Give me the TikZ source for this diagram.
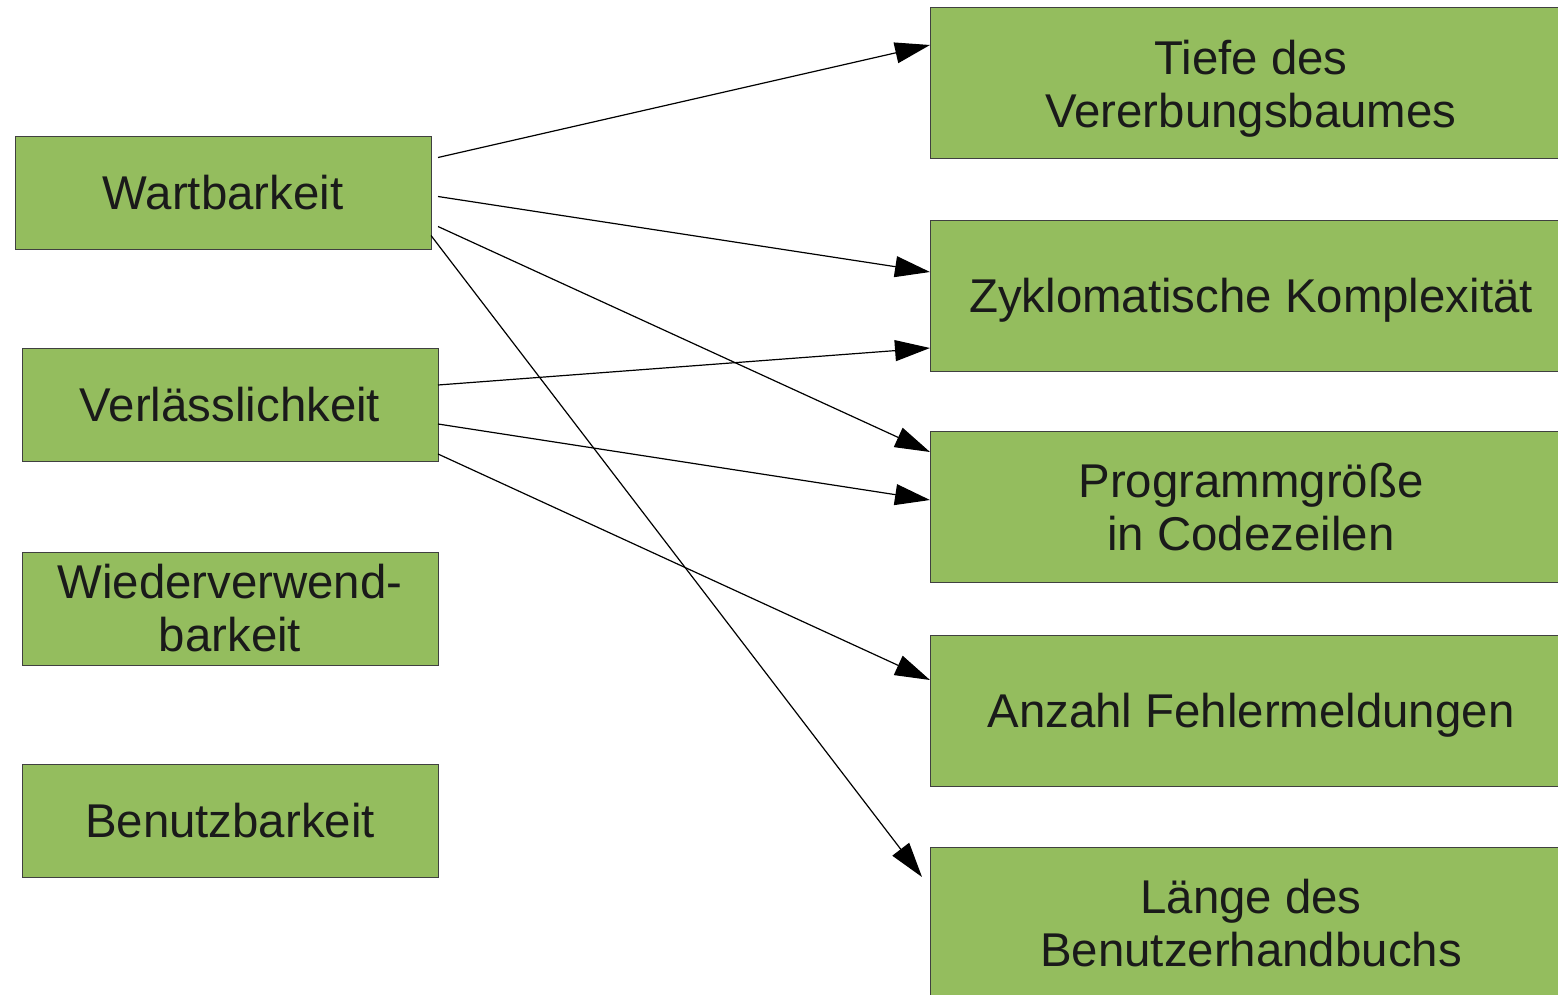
\documentclass[tikz,border=0pt]{standalone}
\usepackage{fontspec}
\setmainfont{Liberation Sans}
\usetikzlibrary{arrows.meta}
\definecolor{boxgreen}{RGB}{148,189,94}
\definecolor{textgray}{RGB}{26,26,26}
\begin{document}
\begin{tikzpicture}[x=0.5pt,y=-0.5pt]

        \clip (0,0) rectangle (1558,995);

        \begin{scope}[every node/.style={rectangle,draw=black!75,line width=0.5pt,fill=boxgreen,
            text=textgray,align=center,inner sep=0pt,outer sep=0pt,
            font=\fontsize{23.7}{26.5}\selectfont}]
          \begin{scope}[every node/.append style={minimum width=208pt,minimum height=56.5pt}]
            \node (1) at (223,193)   {Wartbarkeit};
            \node (2) at (230,404.5) {Verlässlichkeit};
            \node (3) at (230,608.5) {Wiederverwend-\\barkeit};
            \node (4) at (230,820.5) {Benutzbarkeit};
          \end{scope}
          \begin{scope}[every node/.append style={minimum width=321pt,minimum height=75.5pt,text depth=0pt}]
            \node (5) at (1251,83.5)  {Tiefe des\\Vererbungsbaumes};
            \node (6) at (1251,295.5) {Zyklomatische Komplexität};
            \node (7) at (1251,506.5) {Programmgröße\\in Codezeilen};
            \node (8) at (1251,710.5) {Anzahl Fehlermeldungen};
            \node (9) at (1251,922.5) {Länge des\\Benutzerhandbuchs};
          \end{scope}
        \end{scope}

        \begin{scope}[every edge/.style={draw,line width=0.6pt,-{Triangle[length=17.5pt,width=10.5pt]}}]
          \path ([shift={(7,21)}]1.north east)  edge ([shift={(0,37)}]5.north west);
          \path ([shift={(7,60)}]1.north east)  edge ([shift={(0,52)}]6.north west);
          \path ([shift={(7,90)}]1.north east)  edge ([shift={(0,21)}]7.north west);
          \path ([shift={(0,99)}]1.north east)  edge ([shift={(-8,30)}]9.north west);
          \path ([shift={(0,37)}]2.north east)  edge ([shift={(0,128)}]6.north west);
          \path ([shift={(0,76)}]2.north east)  edge ([shift={(0,69)}]7.north west);
          \path ([shift={(0,106)}]2.north east) edge ([shift={(0,45)}]8.north west);
        \end{scope}

      \end{tikzpicture}
\end{document}
